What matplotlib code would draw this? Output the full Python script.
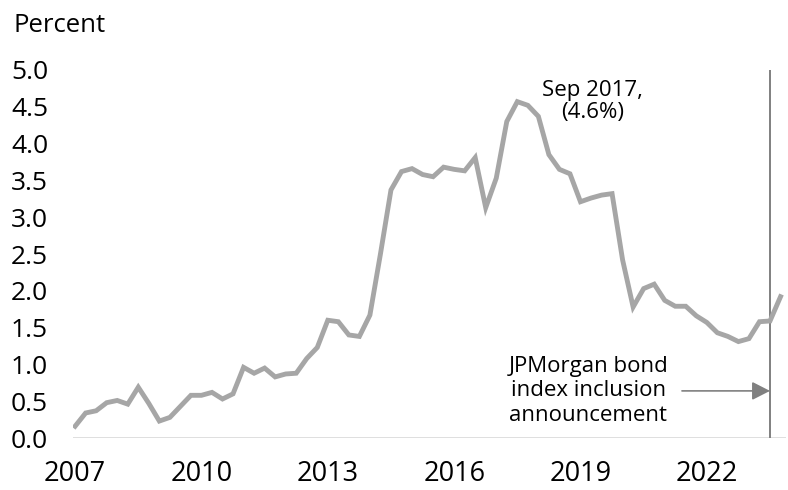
import pandas as pd
import numpy as np
import matplotlib
matplotlib.use("Agg")
import matplotlib.pyplot as plt

plt.rcParams['font.family'] = ['Open Sans', 'DejaVu Sans']

# quarterly data, Q1 2007 .. Q4 2023 (percent)
quarters = pd.period_range('2007Q1', '2023Q4', freq='Q')
values = [0.16, 0.34, 0.37, 0.48, 0.51, 0.46, 0.69, 0.47,
          0.23, 0.28, 0.43, 0.58, 0.58, 0.62, 0.53, 0.60,
          0.96, 0.88, 0.95, 0.83, 0.87, 0.88, 1.08, 1.23,
          1.60, 1.58, 1.40, 1.38, 1.67, 2.50, 3.37, 3.62,
          3.66, 3.58, 3.55, 3.68, 3.65, 3.63, 3.81, 3.13,
          3.53, 4.30, 4.57, 4.52, 4.37, 3.85, 3.65, 3.59,
          3.21, 3.26, 3.30, 3.32, 2.42, 1.78, 2.03, 2.09,
          1.87, 1.79, 1.79, 1.66, 1.57, 1.43, 1.38, 1.31,
          1.35, 1.58, 1.59, 1.92]

x_ticks = [2007, 2010, 2013, 2016, 2019, 2022]
y_ticks = [0.0, 0.5, 1.0, 1.5, 2.0, 2.5, 3.0, 3.5, 4.0, 4.5, 5.0]

peak_label = 'Sep 2017,\n(4.6%)'
event_x = 2023.5  # Sep 2023
event_label = 'JPMorgan bond\nindex inclusion\nannouncement'

x = quarters.year + (quarters.quarter - 1) / 4.0

fig = plt.figure(figsize=(7.88, 4.90), dpi=100)
ax = fig.add_axes([73/788, 1 - 438/490, 713/788, 368/490])

ax.axhline(0, color='#d9d9d9', lw=1.2, zorder=1)
ax.plot(x, values, color='#a6a6a6', lw=3.5, solid_joinstyle='miter', zorder=3)
ax.axvline(event_x, color='#808080', lw=1.4, zorder=2)

ax.set_xlim(2006.95, 2023.88)
ax.set_ylim(0, 5)
ax.set_xticks(x_ticks)
ax.set_yticks(y_ticks)
ax.set_yticklabels(['%.1f' % v for v in y_ticks])
ax.tick_params(axis='x', length=0, pad=16, labelsize=19.5)
ax.tick_params(axis='y', length=0, pad=18, labelsize=19)
for s in ax.spines.values():
    s.set_visible(False)

# peak label
i_peak = int(np.argmax(values))
ax.annotate(peak_label, xy=(x[i_peak], values[i_peak]), xytext=(54, 0),
            textcoords='offset points', ha='center', va='center',
            fontsize=16, multialignment='center', linespacing=1.1)

# event arrow + text
ax.annotate('', xy=(event_x, 0.64), xytext=(2021.41, 0.64),
            arrowprops=dict(arrowstyle='-|>,head_length=0.55,head_width=0.28',
                            mutation_scale=20, color='#808080', lw=1.2,
                            shrinkA=0, shrinkB=0))
ax.text(2019.19, 0.64, event_label, ha='center', va='center', fontsize=16,
        multialignment='center', linespacing=1.2)

fig.text(13/788, 1 - 25/490, 'Percent', ha='left', va='center', fontsize=18.5)

fig.savefig('out.png', dpi=100)
